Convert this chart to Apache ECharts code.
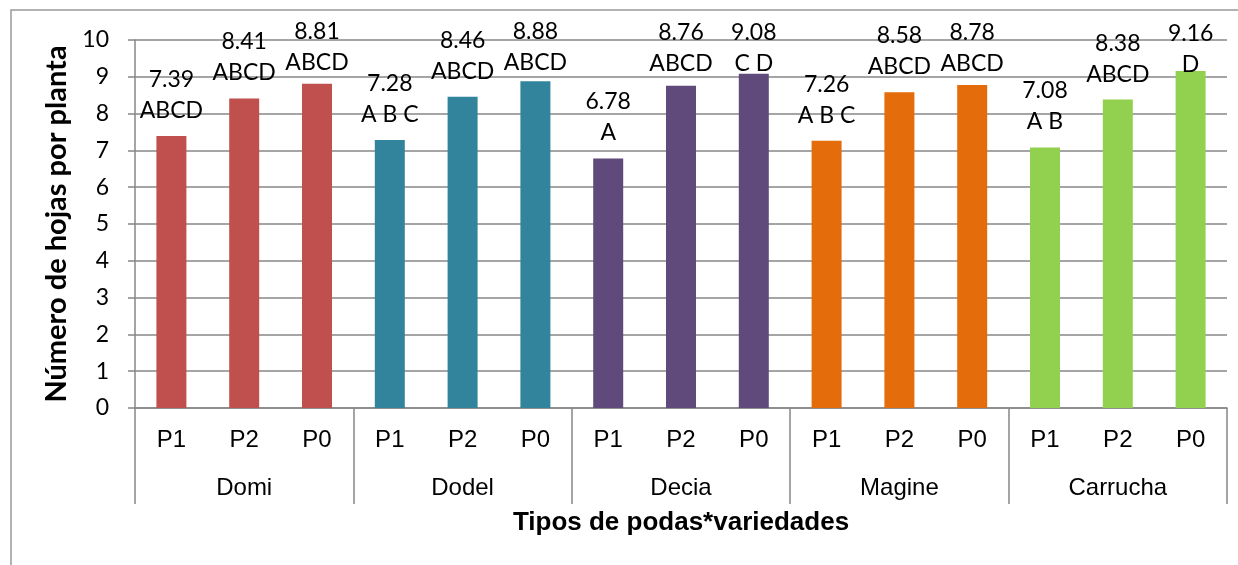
<!DOCTYPE html>
<html>
<head>
<meta charset="utf-8">
<script src="https://cdn.jsdelivr.net/npm/echarts@6/dist/echarts.min.js"></script>
<style>
  html, body { margin: 0; padding: 0; background: #fff; }
  #chart { width: 1238px; height: 565px; }
</style>
</head>
<body>
<div id="chart"></div>
<script>
// data
const varieties = ['Domi', 'Dodel', 'Decia', 'Magine', 'Carrucha'];
const podas = ['P1', 'P2', 'P0'];
const hojas = [7.39, 8.41, 8.81, 7.28, 8.46, 8.88, 6.78, 8.76, 9.08, 7.26, 8.58, 8.78, 7.08, 8.38, 9.16];
const letras = ['ABCD', 'ABCD', 'ABCD', 'A B C', 'ABCD', 'ABCD', 'A', 'ABCD', 'C D', 'A B C', 'ABCD', 'ABCD', 'A B', 'ABCD', 'D'];
const yTicks = [0, 1, 2, 3, 4, 5, 6, 7, 8, 9, 10];

// styling
const colors = ['#C0504D', '#31849B', '#604A7B', '#E46C0A', '#92D050'];
// labels near the top were pushed down in the original
const labelNudge = [0, 0, 4, 0, 0, 7, 0, 3, 15, 0, 0, 4, 0, 0, 19];
const gray = '#878787';

const categories = [];
varieties.forEach(() => podas.forEach(p => categories.push(p)));

const chart = echarts.init(document.getElementById('chart'));

const options = {
    animation: false,
    grid: {
        left: 135,
        right: 11,
        top: 40,
        bottom: 157
    },
    graphic: [{
        type: 'rect',
        shape: { x: 11, y: 10, width: 1260, height: 620 },
        style: { fill: 'none', stroke: '#999', lineWidth: 1.5 },
        silent: true
    }],
    xAxis: [{
        type: 'category',
        data: categories,
        position: 'bottom',
        axisLine: { lineStyle: { color: gray, width: 1.5 } },
        axisTick: { show: false },
        axisLabel: {
            color: '#000',
            fontFamily: 'Liberation Sans',
            fontSize: 24,
            margin: 20,
            interval: 0
        },
        name: 'Tipos de podas*variedades',
        nameLocation: 'middle',
        nameGap: 102,
        nameTextStyle: {
            color: '#000',
            fontFamily: 'Liberation Sans',
            fontWeight: 'bold',
            fontSize: 26
        }
    }, {
        type: 'category',
        data: varieties,
        position: 'bottom',
        axisLine: { show: false },
        axisTick: {
            show: true,
            length: 96,
            lineStyle: { color: gray, width: 1.5 }
        },
        axisLabel: {
            color: '#000',
            fontFamily: 'Liberation Sans',
            fontSize: 24,
            margin: 68,
            interval: 0
        }
    }],
    yAxis: {
        type: 'value',
        min: 0,
        max: yTicks[yTicks.length - 1],
        interval: 1,
        axisLine: { show: true, lineStyle: { color: gray, width: 1.5 } },
        axisTick: { show: true, length: 7, lineStyle: { color: gray, width: 1.5 } },
        splitLine: { lineStyle: { color: gray, width: 1.6 } },
        axisLabel: {
            color: '#000',
            fontFamily: 'Lato',
            fontSize: 23,
            margin: 26
        },
        name: 'Número de hojas por planta',
        nameLocation: 'middle',
        nameRotate: 90,
        nameGap: 64,
        nameTextStyle: {
            color: '#000',
            fontFamily: 'Lato',
            fontWeight: 'bold',
            fontSize: 29
        }
    },
    series: [{
        type: 'bar',
        barWidth: 30,
        data: hojas.map((v, i) => ({
            value: v,
            itemStyle: { color: colors[Math.floor(i / podas.length)] },
            label: { offset: [0, labelNudge[i]] }
        })),
        label: {
            show: true,
            position: 'top',
            distance: 10,
            color: '#000',
            fontFamily: 'Lato',
            fontSize: 23,
            lineHeight: 31,
            formatter: p => p.value.toFixed(2) + '\n' + letras[p.dataIndex]
        }
    }]
};

chart.setOption(options);
</script>
</body>
</html>
